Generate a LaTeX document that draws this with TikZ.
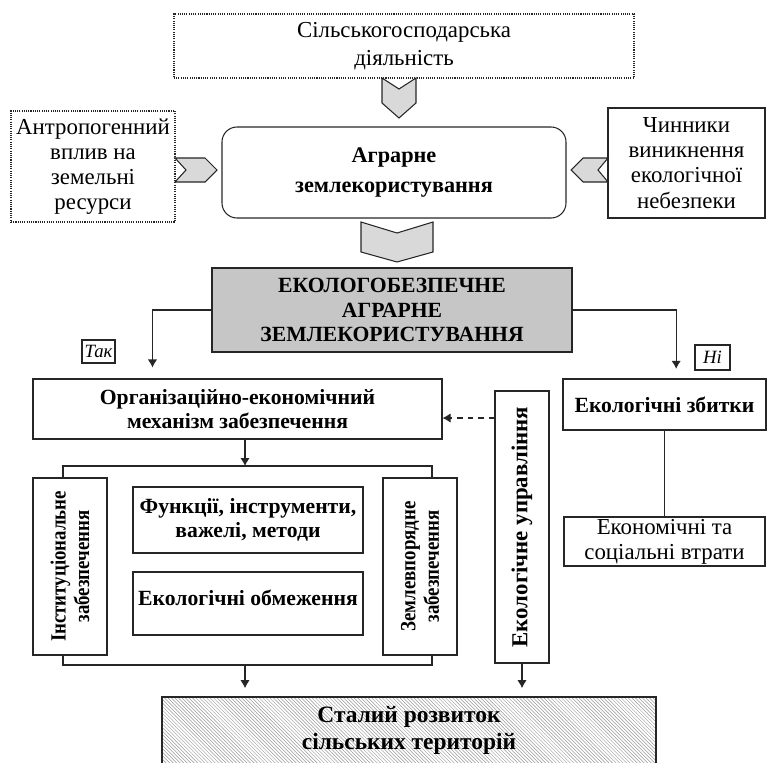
\documentclass[tikz,border=0pt]{standalone}
\usepackage{fontspec}
\setmainfont{Liberation Serif}
\newfontfamily\narrowserif{Liberation Serif}[FakeStretch=0.87]
\usetikzlibrary{arrows,arrows.meta,patterns,positioning,calc}

\tikzset{
  box/.style={draw=black!85, line width=0.9pt, align=center, inner sep=1pt,
    font=\fontsize{19.5}{21.5}\selectfont},
  dotbox/.style={box, densely dotted},
  roundbox/.style={box, rounded corners=0.45cm, font=\fontsize{19}{21}\selectfont\bfseries},
  boldbox/.style={box, font=\fontsize{18.5}{21}\selectfont\bfseries},
  vertbox/.style={boldbox, rotate=90},
  tagbox/.style={draw=black!85, line width=0.9pt, inner sep=1pt,
    font=\fontsize{16}{18}\selectfont\itshape},
  chevron/.style={draw=black!85, fill=gray!30, line width=0.9pt, line join=miter},
  arr/.style={-{Latex[length=2.4mm,width=2.8mm]}, line width=0.9pt, draw=black!85},
  link/.style={line width=0.9pt, draw=black!85}
}

\begin{document}
\begin{tikzpicture}[x=0.03cm,y=-0.03cm]
\useasboundingbox (0,0) rectangle (767,762);

% top row
\node[dotbox, minimum width=13.8cm, minimum height=1.92cm] (farm) at (404,46)
  {Сільськогосподарська\\[3pt]діяльність};
\node[roundbox, minimum width=10.32cm, minimum height=2.73cm] (agro) at (394,172.5)
  {Аграрне\\[5pt]землекористування};
\node[dotbox, minimum width=4.92cm, minimum height=3.33cm] (anthro) at (93,166.5)
  {Антропогенний\\вплив на\\земельні\\ресурси};
\node[box, minimum width=4.71cm, minimum height=3.3cm] (risk) at (686.5,163)
  {Чинники\\виникнення\\екологічної\\небезпеки};
\node[boldbox, fill=gray!45, minimum width=10.8cm, minimum height=2.52cm] (safe) at (392,310)
  {ЕКОЛОГОБЕЗПЕЧНЕ\\АГРАРНЕ\\ЗЕМЛЕКОРИСТУВАННЯ};

% chevrons
\draw[chevron] (382,78) -- (399,89) -- (416,78) -- (416,103) -- (399,118) -- (382,103) -- cycle;
\draw[chevron] (361,222) -- (397,233) -- (433,222) -- (433,252) -- (397,262) -- (361,252) -- cycle;
\draw[chevron] (175,158) -- (205,158) -- (217,170) -- (205,182) -- (175,182) -- (186,170) -- cycle;
\draw[chevron] (608,158) -- (583,158) -- (571,170) -- (583,182) -- (608,182) -- (598,170) -- cycle;

% yes / no branches
\node[tagbox, minimum width=0.99cm, minimum height=0.69cm] (yes) at (98.5,351.5) {Так};
\node[tagbox, minimum width=1.05cm, minimum height=0.75cm] (no) at (712.5,357.5) {Ні};

\node[boldbox, minimum width=12.27cm, minimum height=1.8cm] (mech) at (237.5,409)
  {Організаційно-економічний\\механізм забезпечення};
\node[boldbox, line width=2pt, minimum width=6.09cm, minimum height=1.53cm] (damage) at (664.5,404.5)
  {Екологічні збитки};
\node[box, minimum width=6.03cm, minimum height=1.47cm] (loss) at (664.5,541.5)
  {Економічні та\\соціальні втрати};

% mechanism parts
\node[vertbox, font=\narrowserif\fontsize{18.5}{20}\selectfont\bfseries,
  minimum width=5.31cm, minimum height=2.22cm] (inst) at (70,566.5)
  {Інституціональне\\забезпечення};
\node[boldbox, minimum width=6.9cm, minimum height=1.98cm] (tools) at (248,520)
  {Функції, інструменти,\\важелі, методи};
\node[boldbox, text height=0.46cm, text depth=0.36cm,
  minimum width=6.9cm, minimum height=1.89cm] (limits) at (248,603.5)
  {Екологічні обмеження};
\node[vertbox, font=\narrowserif\fontsize{18.5}{20}\selectfont\bfseries,
  minimum width=5.31cm, minimum height=2.22cm] (landuse) at (420,566.5)
  {Землевпорядне\\забезпечення};
\node[vertbox, font=\fontsize{19.5}{22}\selectfont\bfseries,
  minimum width=8.16cm, minimum height=1.62cm] (ecoman) at (522,527)
  {Екологічне управління};

\node[boldbox, font=\fontsize{20}{23}\selectfont\bfseries,
  pattern=north west lines, pattern color=gray!80,
  minimum width=14.82cm, minimum height=2.01cm] (rural) at (409,730.5)
  {Сталий розвиток\\сільських територій};

% connectors
\coordinate (bracetop) at (245,466);
\coordinate (bracebot) at (245,665);
\coordinate (dashend) at ([yshift=-0.27cm]mech.east);

\draw[arr, shorten >=0.33cm] (safe.west) -| ([xshift=3.6cm]mech.north west);
\draw[arr, shorten >=0.27cm] (safe.east) -| ([xshift=0.35cm]damage.north);
\draw[arr] (mech.south -| bracetop) -- (bracetop);
\draw[link] ([xshift=-0.21cm]inst.east) |- (bracetop) -| ([xshift=0.36cm]landuse.east);
\draw[link] ([xshift=-0.21cm]inst.west) |- (bracebot) -| ([xshift=0.36cm]landuse.west);
\draw[arr, shorten >=0.25cm] (bracebot) -- (bracebot |- rural.north);
\draw[arr, shorten >=0.25cm] (ecoman.west) -- (ecoman.west |- rural.north);
\draw[arr, dash pattern=on 5pt off 4pt] (ecoman.north |- dashend) -- (dashend);
\draw[link] (damage.south) -- (loss.north);

\end{tikzpicture}
\end{document}
